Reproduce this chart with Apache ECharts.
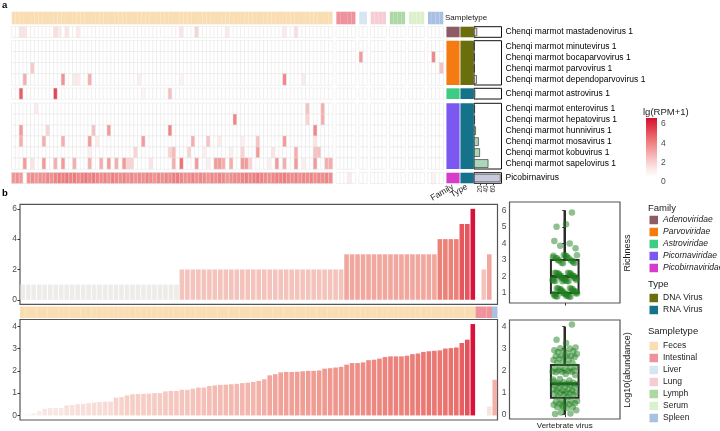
<!DOCTYPE html>
<html>
<head>
<meta charset="utf-8">
<script src="https://cdn.jsdelivr.net/npm/echarts@6/dist/echarts.min.js"></script>
<style>html,body{margin:0;padding:0;background:#fff}#main{width:720px;height:431px}</style>
</head>
<body>
<div id="main"></div>
<script>
// ---- data ----
var sampleTypes = ['Feces', 'Intestinal', 'Liver', 'Lung', 'Lymph', 'Serum', 'Spleen'];
var sampleTypeColors = ['#F9DDB3', '#EE929D', '#D5E5F2', '#F6CDD3', '#AED8A3', '#DDF0CD', '#A8C1E2'];
var heatSampleCounts = [84, 5, 2, 4, 4, 4, 4];

var families = ['Adenoviridae', 'Parvoviridae', 'Astroviridae', 'Picornaviridae', 'Picobirnaviridae'];
var familyColors = ['#8E5A66', '#F57A12', '#3ECC84', '#7B58F0', '#D63CC8'];
var virusTypes = ['DNA Virus', 'RNA Virus'];
var typeColors = ['#6B6E0C', '#14738A'];

var virusGroups = [
    ['Chenqi marmot mastadenovirus 1'],
    ['Chenqi marmot minutevirus 1', 'Chenqi marmot bocaparvovirus 1', 'Chenqi marmot parvovirus 1', 'Chenqi marmot dependoparvovirus 1'],
    ['Chenqi marmot astrovirus 1'],
    ['Chenqi marmot enterovirus 1', 'Chenqi marmot hepatovirus 1', 'Chenqi marmot hunnivirus 1', 'Chenqi marmot mosavirus 1', 'Chenqi marmot kobuvirus 1', 'Chenqi marmot sapelovirus 1'],
    ['Picobirnavirus']
];
var groupFamily = [0, 1, 2, 3, 4];
var groupType = [0, 0, 1, 1, 1];
// positive samples per virus
var positiveCounts = [[10], [1, 2, 2, 9], [4], [3, 3, 6, 15, 19, 46], [85]];
var countTicks = [0, 20, 40, 60, 80];

// lg(RPM+1), sparse: [sample, value]
var heatCells = {
    'Chenqi marmot mastadenovirus 1': [[2, 1], [3, 1], [11, 1.2], [12, 0.8], [14, 1], [17, 0.8], [44, 1], [48, 1.5], [56, 0.8], [71, 0.8], [74, 1.2]],
    'Chenqi marmot minutevirus 1': [],
    'Chenqi marmot bocaparvovirus 1': [[89, 3], [104, 3.5]],
    'Chenqi marmot parvovirus 1': [[5, 1.8], [106, 2]],
    'Chenqi marmot dependoparvovirus 1': [[3, 2.5], [13, 3.2], [16, 0.8], [17, 0.8], [20, 2.5], [33, 0.6], [44, 0.5], [71, 3.5], [76, 0.8]],
    'Chenqi marmot astrovirus 1': [[2, 4.5], [11, 5], [34, 0.4], [41, 2]],
    'Chenqi marmot enterovirus 1': [[6, 0.8], [77, 2], [81, 2.5]],
    'Chenqi marmot hepatovirus 1': [[58, 3.5], [77, 1.5], [81, 2.5]],
    'Chenqi marmot hunnivirus 1': [[2, 3], [9, 1.5], [21, 2], [25, 3], [41, 3.5], [79, 3.5]],
    'Chenqi marmot mosavirus 1': [[2, 2.5], [8, 2.5], [13, 2.5], [20, 3], [22, 0.8], [34, 3], [47, 2.5], [51, 2], [54, 0.8], [60, 0.6], [64, 2], [71, 3], [79, 1]],
    'Chenqi marmot kobuvirus 1': [[20, 0.6], [32, 1.5], [41, 1.5], [42, 2.2], [46, 1.5], [50, 0.6], [57, 0.6], [60, 1.5], [64, 3], [68, 1], [74, 2.5], [79, 2], [80, 2]],
    'Chenqi marmot sapelovirus 1': [[3, 3], [5, 1], [8, 3], [11, 2.5], [13, 3], [16, 2.5], [20, 2.5], [23, 2.5], [25, 3], [27, 2.5], [29, 3], [30, 1.5], [31, 1.5], [36, 1], [42, 2.5], [44, 4], [48, 3], [51, 0.6], [53, 3], [54, 3], [55, 2.5], [57, 2.5], [60, 3], [61, 3], [62, 1.5], [67, 0.6], [69, 3], [71, 2.5], [74, 3], [76, 0.6], [79, 3], [82, 2.5], [83, 2.5]],
    'Picobirnavirus': [[87, 0.8], [104, 0.5]]
};
var picobirnaFeces = [
    3.1, 3.3, 3.0, 0, 3.2, 3.4, 3.1, 3.3, 3.2, 3.5,
    3.3, 3.6, 3.8, 3.7, 3.9, 3.6, 3.8, 3.5, 3.7, 3.9,
    3.6, 3.8, 3.5, 3.4, 3.6, 3.3, 3.7, 3.5, 3.4, 3.6,
    3.3, 3.5, 3.2, 3.4, 3.3, 3.6, 3.4, 3.2, 3.5, 3.3,
    3.6, 3.4, 3.7, 3.8, 3.5, 3.3, 3.4, 3.6, 3.3, 3.5,
    3.4, 3.2, 3.5, 3.3, 3.6, 3.4, 3.1, 3.3, 3.5, 3.4,
    3.6, 3.8, 3.5, 3.7, 3.9, 3.6, 3.4, 3.3, 3.5, 3.7,
    3.6, 3.8, 3.5, 3.4, 3.6, 3.3, 3.5, 3.4, 3.6, 3.3,
    3.5, 3.4, 3.6, 3.3
];
var heatTicks = [0, 2, 4, 6];

// panel b
var bTypeCounts = [83, 3, 0, 0, 0, 0, 1];
var richness = [
    1, 1, 1, 1, 1, 1, 1, 1, 1, 1, 1, 1, 1, 1, 1, 1, 1, 1, 1, 1, 1, 1, 1, 1, 1, 1, 1, 1, 1,
    2, 2, 2, 2, 2, 2, 2, 2, 2, 2, 2, 2, 2, 2, 2, 2, 2, 2, 2, 2, 2, 2, 2, 2, 2, 2, 2, 2, 2, 2,
    3, 3, 3, 3, 3, 3, 3, 3, 3, 3, 3, 3, 3, 3, 3, 3, 3,
    4, 4, 4, 4, 5, 5, 6,
    0, 2, 3, 0
];
var abundance = [
    0.03, 0.05, 0.1, 0.2, 0.3, 0.33, 0.33, 0.33, 0.45, 0.47,
    0.5, 0.52, 0.55, 0.58, 0.6, 0.62, 0.62, 0.8, 0.82, 0.9,
    0.95, 0.96, 0.97, 0.98, 1.0, 1.0, 1.08, 1.1, 1.1, 1.15,
    1.15, 1.2, 1.25, 1.25, 1.32, 1.35, 1.37, 1.38, 1.4, 1.42,
    1.45, 1.47, 1.5, 1.55, 1.62, 1.8, 1.85, 1.93, 1.95, 1.95,
    1.96, 1.98, 2.0, 2.0, 2.02, 2.1, 2.12, 2.15, 2.18, 2.28,
    2.35, 2.35, 2.38, 2.48, 2.5, 2.55, 2.62, 2.65, 2.65, 2.65,
    2.68, 2.75, 2.78, 2.85, 2.88, 2.9, 2.92, 3.0, 3.02, 3.05,
    3.25, 3.4, 4.1,
    0, 0, 0.4, 1.6
];
var richnessBox = [1, 1, 2, 3, 6];          // min, q1, median, q3, max
var abundanceBox = [0, 0.77, 1.4, 2.25, 4.0];
var richnessTicks = [0, 2, 4, 6];
var abundanceTicks = [0, 1, 2, 3, 4];
var richBoxTicks = [1, 2, 3, 4, 5, 6];

// ---- layout / styles ----
var FONT = 'Liberation Sans, Arial, sans-serif';
var heatColors = ['#FFFFFF', '#FCE3E3', '#F8BDBD', '#F29494', '#EC6A6E', '#E23B4B', '#D5102B'];
var richColors = ['#EEECE9', '#F4C4BC', '#F1A69E', '#EC8178', '#E5575C', '#D8123A'];
var abColors = ['#FBF3F0', '#F5CBC3', '#F09B92', '#E9706B', '#D8123A'];
var annBarColors = ['#E6D8DA', '#EBDCD0', '#D4EBDD', '#AAD6BA', '#C8C9DE'];
var pointColor = 'rgba(30,128,30,0.62)';

var heatLeft = 11.7, heatWidth = 431.6;
var groupTop = [26.7, 40.7, 88.3, 103.3, 172.7];
var groupH = [10.6, 44.3, 10.7, 65.7, 10.6];

var grids = [], xAxes = [], yAxes = [], series = [];
function addGrid(g, xa, ya) {
    grids.push(g);
    var i = grids.length - 1;
    xa.gridIndex = i; ya.gridIndex = i;
    xAxes.push(xa); yAxes.push(ya);
    return i;
}

// heatmap columns with one spacer column between sample types
var heatCats = [], heatCatType = [], sampleCat = [];
var sCount = 0;
heatSampleCounts.forEach(function (n, t) {
    for (var k = 0; k < n; k++) { sampleCat.push(heatCats.length); heatCats.push('s' + sCount); heatCatType.push(t); sCount++; }
    if (t < heatSampleCounts.length - 1) { heatCats.push('gap' + t); heatCatType.push(-1); }
});

// sampletype strip (a)
var gStrip = addGrid({ left: heatLeft, top: 11.7, width: heatWidth, height: 12.6 },
    { type: 'category', data: heatCats, show: false },
    { type: 'value', min: 0, max: 1, show: false });
sampleTypes.forEach(function (t, ti) {
    series.push({
        type: 'bar', name: t, stack: 'stripA', xAxisIndex: gStrip, yAxisIndex: gStrip, barCategoryGap: '0%', silent: true,
        itemStyle: { color: sampleTypeColors[ti] },
        data: heatCats.map(function (c, ci) { return heatCatType[ci] === ti ? 1 : '-'; })
    });
});

// heatmap groups + annotations
var heatSeries = [];
virusGroups.forEach(function (rows, g) {
    var gi = addGrid({ left: heatLeft, top: groupTop[g], width: heatWidth, height: groupH[g] },
        { type: 'category', data: heatCats, show: false },
        { type: 'category', data: rows, inverse: true, show: false });
    var data = [];
    rows.forEach(function (name, r) {
        var vals = [];
        for (var i = 0; i < sCount; i++) vals.push(0);
        if (name === 'Picobirnavirus') picobirnaFeces.forEach(function (v, i) { vals[i] = v; });
        (heatCells[name] || []).forEach(function (p) { vals[p[0]] = p[1]; });
        vals.forEach(function (v, i) { data.push([sampleCat[i], r, v]); });
    });
    heatSeries.push(series.length);
    series.push({
        type: 'heatmap', xAxisIndex: gi, yAxisIndex: gi, data: data, silent: true,
        itemStyle: { borderColor: '#E2E2E2', borderWidth: 0.5 }, emphasis: { disabled: true }
    });

    var last = g === virusGroups.length - 1;
    var ga = addGrid({ left: 446, top: groupTop[g], width: 28, height: groupH[g] },
        {
            type: 'category', data: ['Family', 'Type'], show: last,
            axisLine: { show: false }, axisTick: { show: false },
            axisLabel: { interval: 0, rotate: 30, fontSize: 8.5, margin: 3, color: '#1a1a1a' }
        },
        { type: 'value', min: 0, max: 1, show: false });
    series.push({ type: 'bar', name: families[groupFamily[g]], stack: 'ft' + g, xAxisIndex: ga, yAxisIndex: ga, barCategoryGap: '6%', silent: true,
        itemStyle: { color: familyColors[groupFamily[g]] }, data: [1, '-'] });
    series.push({ type: 'bar', name: virusTypes[groupType[g]], stack: 'ft' + g, xAxisIndex: ga, yAxisIndex: ga, barCategoryGap: '6%', silent: true,
        itemStyle: { color: typeColors[groupType[g]] }, data: ['-', 1] });

    var gb = addGrid({ left: 474, top: groupTop[g], width: 27.5, height: groupH[g], show: true, borderColor: '#111', borderWidth: 1 },
        {
            type: 'value', min: 0, max: 88, show: last,
            axisLine: { show: false }, splitLine: { show: false },
            axisTick: { show: true, length: 2, customValues: countTicks, lineStyle: { color: '#333' } },
            axisLabel: { customValues: countTicks, rotate: 90, fontSize: 6.5, margin: 2, color: '#333' }
        },
        {
            type: 'category', data: rows, inverse: true, position: 'right',
            axisLine: { show: false }, axisTick: { show: false },
            axisLabel: { interval: 0, margin: 4, fontSize: 8.5, color: '#000' }
        });
    series.push({ type: 'bar', xAxisIndex: gb, yAxisIndex: gb, data: positiveCounts[g], barCategoryGap: '22%', silent: true,
        itemStyle: { color: annBarColors[g], borderColor: '#222', borderWidth: 0.6 } });
});

// heat colour bar
var gBar = addGrid({ left: 646, top: 118, width: 11, height: 64 },
    { type: 'category', data: ['c'], show: false },
    {
        type: 'value', min: 0, max: 6.62, position: 'right',
        axisLine: { show: false }, splitLine: { show: false },
        axisTick: { show: true, inside: true, length: 3, customValues: heatTicks, lineStyle: { color: '#fff' } },
        axisLabel: { customValues: heatTicks, fontSize: 8.5, color: '#4d4d4d', margin: 4 }
    });
series.push({ type: 'bar', stack: 'cb', xAxisIndex: gBar, yAxisIndex: gBar, barWidth: '100%', silent: true,
    itemStyle: { color: 'rgba(0,0,0,0)' }, data: [0.52] });
series.push({ type: 'bar', stack: 'cb', xAxisIndex: gBar, yAxisIndex: gBar, barWidth: '100%', silent: true,
    itemStyle: { color: new echarts.graphic.LinearGradient(0, 0, 0, 1, heatColors.slice().reverse().map(function (c, i, a) {
        return { offset: i / (a.length - 1), color: c };
    })) }, data: [6.1] });

// panel b
var bCats = richness.map(function (v, i) { return 'b' + i; });
var bColType = [];
bTypeCounts.forEach(function (n, t) { for (var k = 0; k < n; k++) bColType.push(t); });
var yAxisStyle = function (min, max, ticks) {
    return {
        type: 'value', min: min, max: max,
        axisLine: { show: false }, splitLine: { show: false },
        axisTick: { show: true, length: 2.5, customValues: ticks, lineStyle: { color: '#333' } },
        axisLabel: { customValues: ticks, fontSize: 8.5, color: '#4d4d4d', margin: 3 }
    };
};
var panelBorder = { show: true, borderColor: '#555', borderWidth: 1.2 };

var gR = addGrid(Object.assign({ left: 20, top: 204.3, width: 477.5, height: 100 }, panelBorder),
    { type: 'category', data: bCats, show: false },
    yAxisStyle(-0.3, 6.3, richnessTicks));
var richIdx = series.length;
series.push({ type: 'bar', xAxisIndex: gR, yAxisIndex: gR, data: richness, barCategoryGap: '16%', silent: true });

var gS = addGrid({ left: 20, top: 306.5, width: 477.5, height: 11.5 },
    { type: 'category', data: bCats, show: false },
    { type: 'value', min: 0, max: 1, show: false });
sampleTypes.forEach(function (t, ti) {
    series.push({
        type: 'bar', name: t, stack: 'stripB', xAxisIndex: gS, yAxisIndex: gS, barCategoryGap: '0%', silent: true,
        itemStyle: { color: sampleTypeColors[ti] },
        data: bCats.map(function (c, ci) { return bColType[ci] === ti ? 1 : '-'; })
    });
});

var gA = addGrid(Object.assign({ left: 20, top: 319.5, width: 477.5, height: 100.5 }, panelBorder),
    { type: 'category', data: bCats, show: false },
    yAxisStyle(-0.205, 4.305, abundanceTicks));
var abIdx = series.length;
series.push({ type: 'bar', xAxisIndex: gA, yAxisIndex: gA, data: abundance, barCategoryGap: '16%', silent: true });

// box plots with jittered points
function renderBox(params, api) {
    var x = api.value(0), hw = 0.15;
    var pMin = api.coord([x, api.value(1)]), pQ1 = api.coord([x, api.value(2)]), pMed = api.coord([x, api.value(3)]);
    var pQ3 = api.coord([x, api.value(4)]), pMax = api.coord([x, api.value(5)]);
    var l = api.coord([x - hw, api.value(3)])[0], r = api.coord([x + hw, api.value(3)])[0];
    var ln = { stroke: '#2b2b2b', lineWidth: 2.5 };
    return { type: 'group', children: [
        { type: 'line', shape: { x1: pMax[0], y1: pMax[1], x2: pQ3[0], y2: pQ3[1] }, style: ln },
        { type: 'line', shape: { x1: pQ1[0], y1: pQ1[1], x2: pMin[0], y2: pMin[1] }, style: ln },
        { type: 'rect', shape: { x: l, y: pQ3[1], width: r - l, height: pQ1[1] - pQ3[1] }, style: { stroke: '#2b2b2b', fill: 'rgba(0,0,0,0)', lineWidth: 2 } },
        { type: 'line', shape: { x1: l, y1: pMed[1], x2: r, y2: pMed[1] }, style: { stroke: '#2b2b2b', lineWidth: 3 } }
    ] };
}
function jitterPoints(vals, yj) {
    var pts = [], k = 0;
    vals.forEach(function (v) {
        if (v <= 0) return;
        var jx = ((k * 0.6180339 + 0.11) % 1 - 0.5) * 0.27;
        var jy = ((k * 0.7548777 + 0.37) % 1 - 0.5) * yj;
        pts.push([jx, v + jy]);
        k++;
    });
    return pts;
}
var boxX = function (showLabel) {
    return {
        type: 'value', min: -0.6, max: 0.6,
        axisLine: { show: false }, splitLine: { show: false },
        axisTick: { show: true, length: 2.5, customValues: [0], lineStyle: { color: '#333' } },
        axisLabel: { show: showLabel, customValues: [0], fontSize: 8, color: '#1a1a1a', margin: 3,
            formatter: function () { return 'Vertebrate virus'; } }
    };
};
var gRB = addGrid(Object.assign({ left: 509.5, top: 202, width: 110.5, height: 101 }, panelBorder),
    boxX(false), yAxisStyle(0.4, 6.5, richBoxTicks));
series.push({ type: 'custom', xAxisIndex: gRB, yAxisIndex: gRB, renderItem: renderBox, silent: true,
    data: [[0].concat(richnessBox)], z: 2 });
series.push({ type: 'scatter', xAxisIndex: gRB, yAxisIndex: gRB, data: jitterPoints(richness, 0.6), symbolSize: 6.5, silent: true,
    itemStyle: { color: pointColor }, z: 3 });

var gAB = addGrid(Object.assign({ left: 509.5, top: 320, width: 110.5, height: 99 }, panelBorder),
    boxX(true), yAxisStyle(-0.2, 4.3, abundanceTicks));
series.push({ type: 'custom', xAxisIndex: gAB, yAxisIndex: gAB, renderItem: renderBox, silent: true,
    data: [[0].concat(abundanceBox)], z: 2 });
series.push({ type: 'scatter', xAxisIndex: gAB, yAxisIndex: gAB, data: jitterPoints(abundance, 0), symbolSize: 6.5, silent: true,
    itemStyle: { color: pointColor }, z: 3 });

// legends
function legendAt(names, top, italic) {
    return {
        data: names, left: 649.5, top: top, orient: 'vertical', icon: 'rect', padding: 0,
        itemWidth: 8.5, itemHeight: 8.5, itemGap: 3, selectedMode: false,
        textStyle: { fontSize: 8.5, lineHeight: 9, color: '#1a1a1a', fontStyle: italic ? 'italic' : 'normal', fontFamily: FONT }
    };
}

function label(text, x, y, size, opts) {
    return Object.assign({ type: 'text', x: x, y: y, silent: true,
        style: { text: text, fontSize: size, fill: '#1a1a1a', fontFamily: FONT, align: 'left', verticalAlign: 'middle' } }, opts || {});
}

var chart = echarts.init(document.getElementById('main'));
chart.setOption({
    animation: false,
    textStyle: { fontFamily: FONT },
    grid: grids,
    xAxis: xAxes,
    yAxis: yAxes,
    visualMap: [
        { type: 'continuous', show: false, min: 0, max: 6.3, dimension: 2, seriesIndex: heatSeries, inRange: { color: heatColors } },
        { type: 'continuous', show: false, min: 1, max: 6, seriesIndex: [richIdx], inRange: { color: richColors } },
        { type: 'continuous', show: false, min: 0, max: 4.1, seriesIndex: [abIdx], inRange: { color: abColors } }
    ],
    legend: [
        legendAt(families, 215.5, true),
        legendAt(virusTypes, 293.5, false),
        legendAt(sampleTypes, 341.5, false)
    ],
    graphic: { elements: [
        label('a', 2, 5, 9.5, { style: { text: 'a', fontSize: 9.5, fontWeight: 'bold', fill: '#000', fontFamily: FONT, verticalAlign: 'middle' } }),
        label('b', 2, 193, 9.5, { style: { text: 'b', fontSize: 9.5, fontWeight: 'bold', fill: '#000', fontFamily: FONT, verticalAlign: 'middle' } }),
        label('Sampletype', 445, 18, 8),
        label('lg(RPM+1)', 643, 112, 9.5),
        label('Family', 648, 208, 9.5),
        label('Type', 648, 284.5, 9.5),
        label('Sampletype', 648, 331, 9.5),
        label('Richness', 628, 253, 9, { rotation: Math.PI / 2, style: { text: 'Richness', fontSize: 9, fill: '#1a1a1a', fontFamily: FONT, align: 'center', verticalAlign: 'middle' } }),
        label('Log10(abundance)', 628, 370, 9, { rotation: Math.PI / 2, style: { text: 'Log10(abundance)', fontSize: 9, fill: '#1a1a1a', fontFamily: FONT, align: 'center', verticalAlign: 'middle' } })
    ] },
    series: series
});
</script>
</body>
</html>
